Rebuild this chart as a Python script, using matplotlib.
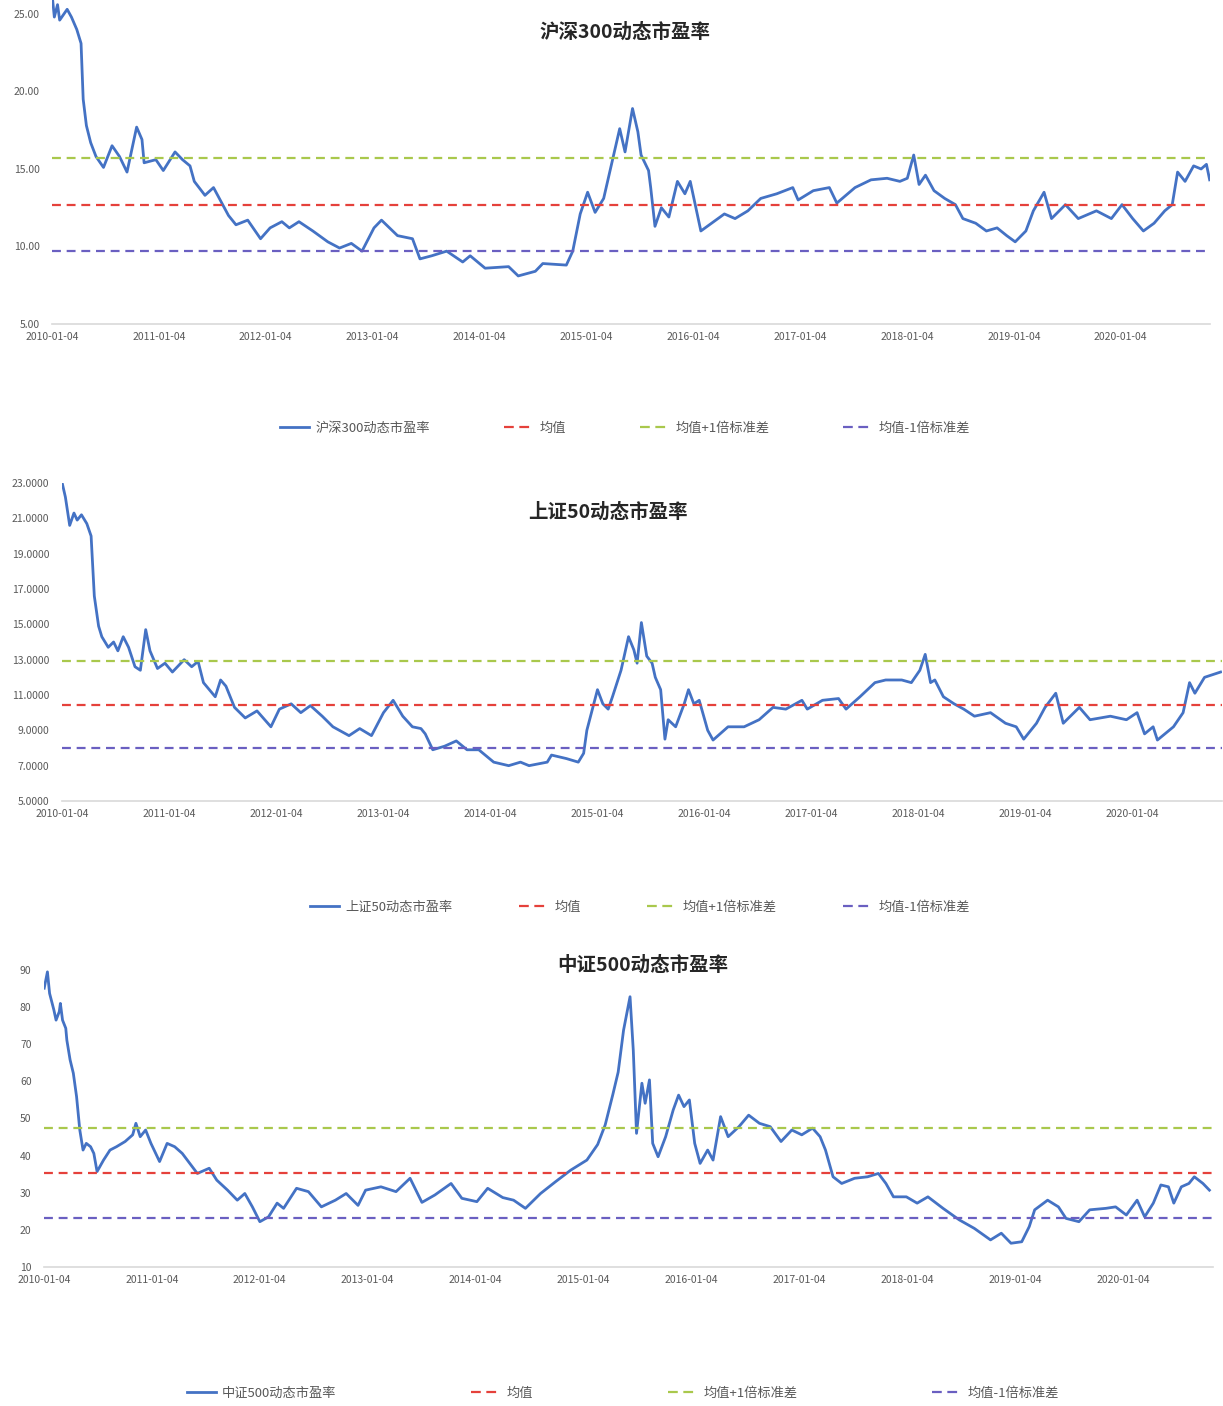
import numpy as np
import pandas as pd
import matplotlib
matplotlib.use("Agg")
import matplotlib.pyplot as plt
from matplotlib.lines import Line2D

plt.rcParams["font.family"] = ["Noto Sans CJK SC", "DejaVu Sans"]
plt.rcParams["axes.unicode_minus"] = False

# 沪深300 (时间用小数年表示)
hs300_t = [2010.01, 2010.03, 2010.06, 2010.08, 2010.15, 2010.19, 2010.24, 2010.28, 2010.30, 2010.33,
           2010.37, 2010.42, 2010.49, 2010.57, 2010.64, 2010.71, 2010.80, 2010.85, 2010.87, 2010.98,
           2011.05, 2011.16, 2011.23, 2011.30, 2011.34, 2011.44, 2011.52, 2011.59, 2011.66, 2011.73,
           2011.84, 2011.96, 2012.05, 2012.16, 2012.23, 2012.32, 2012.45, 2012.59, 2012.70, 2012.81,
           2012.91, 2013.02, 2013.09, 2013.24, 2013.38, 2013.45, 2013.56, 2013.70, 2013.85, 2013.92,
           2014.06, 2014.28, 2014.37, 2014.53, 2014.60, 2014.82, 2014.88, 2014.95, 2015.02, 2015.09,
           2015.17, 2015.32, 2015.37, 2015.44, 2015.49, 2015.52, 2015.59, 2015.61, 2015.65, 2015.71,
           2015.78, 2015.86, 2015.93, 2015.98, 2016.08, 2016.18, 2016.30, 2016.40, 2016.52, 2016.64,
           2016.79, 2016.94, 2016.99, 2017.13, 2017.28, 2017.35, 2017.52, 2017.67, 2017.82, 2017.94,
           2018.01, 2018.07, 2018.12, 2018.18, 2018.26, 2018.36, 2018.46, 2018.53, 2018.65, 2018.75,
           2018.85, 2018.94, 2019.02, 2019.12, 2019.19, 2019.29, 2019.36, 2019.49, 2019.61, 2019.78,
           2019.92, 2020.02, 2020.12, 2020.22, 2020.32, 2020.42, 2020.49, 2020.54, 2020.61, 2020.69,
           2020.76, 2020.81, 2020.84]
hs300_pe = [26.2, 24.8, 25.6, 24.6, 25.3, 24.8, 24.0, 23.1, 19.5, 17.8,
            16.7, 15.8, 15.1, 16.5, 15.8, 14.8, 17.7, 16.9, 15.4, 15.6,
            14.9, 16.1, 15.6, 15.2, 14.2, 13.3, 13.8, 12.9, 12.0, 11.4,
            11.7, 10.5, 11.2, 11.6, 11.2, 11.6, 11.0, 10.3, 9.9, 10.2,
            9.7, 11.2, 11.7, 10.7, 10.5, 9.2, 9.4, 9.7, 9.0, 9.4,
            8.6, 8.7, 8.1, 8.4, 8.9, 8.8, 9.7, 12.1, 13.5, 12.2,
            13.1, 17.6, 16.1, 18.9, 17.4, 15.9, 14.9, 13.8, 11.3, 12.5,
            11.9, 14.2, 13.4, 14.2, 11.0, 11.5, 12.1, 11.8, 12.3, 13.1,
            13.4, 13.8, 13.0, 13.6, 13.8, 12.8, 13.8, 14.3, 14.4, 14.2,
            14.4, 15.9, 14.0, 14.6, 13.6, 13.1, 12.7, 11.8, 11.5, 11.0,
            11.2, 10.7, 10.3, 11.0, 12.3, 13.5, 11.8, 12.7, 11.8, 12.3,
            11.8, 12.7, 11.8, 11.0, 11.5, 12.3, 12.7, 14.8, 14.2, 15.2,
            15.0, 15.3, 14.3]
hs300_mean, hs300_std = 12.69, 3.0

# 上证50
sz50_t = [2010.01, 2010.04, 2010.08, 2010.12, 2010.15, 2010.19, 2010.24, 2010.28, 2010.31, 2010.35,
          2010.38, 2010.44, 2010.49, 2010.53, 2010.58, 2010.63, 2010.69, 2010.74, 2010.79, 2010.83,
          2010.90, 2010.97, 2011.04, 2011.15, 2011.22, 2011.28, 2011.33, 2011.44, 2011.49, 2011.54,
          2011.62, 2011.72, 2011.83, 2011.96, 2012.04, 2012.15, 2012.24, 2012.33, 2012.44, 2012.54,
          2012.69, 2012.79, 2012.90, 2013.01, 2013.10, 2013.19, 2013.28, 2013.36, 2013.40, 2013.47,
          2013.58, 2013.69, 2013.79, 2013.90, 2014.04, 2014.18, 2014.29, 2014.37, 2014.54, 2014.58,
          2014.72, 2014.83, 2014.88, 2014.91, 2015.01, 2015.06, 2015.11, 2015.15, 2015.23, 2015.30,
          2015.35, 2015.38, 2015.42, 2015.47, 2015.52, 2015.55, 2015.60, 2015.64, 2015.67, 2015.74,
          2015.82, 2015.86, 2015.91, 2015.96, 2016.04, 2016.09, 2016.23, 2016.38, 2016.52, 2016.65,
          2016.77, 2016.92, 2016.97, 2017.11, 2017.26, 2017.33, 2017.46, 2017.60, 2017.70, 2017.85,
          2017.94, 2018.02, 2018.07, 2018.12, 2018.16, 2018.24, 2018.34, 2018.43, 2018.53, 2018.68,
          2018.82, 2018.92, 2018.99, 2019.11, 2019.19, 2019.29, 2019.36, 2019.51, 2019.61, 2019.80,
          2019.95, 2020.05, 2020.12, 2020.20, 2020.24, 2020.39, 2020.48, 2020.54, 2020.59, 2020.68,
          2020.78, 2020.83]
sz50_pe = [23.0, 22.2, 20.6, 21.3, 20.9, 21.2, 20.7, 20.0, 16.6, 14.9,
           14.3, 13.7, 14.0, 13.5, 14.3, 13.7, 12.6, 12.4, 14.7, 13.5,
           12.5, 12.8, 12.3, 13.0, 12.6, 12.9, 11.7, 10.9, 11.85, 11.5,
           10.3, 9.7, 10.1, 9.2, 10.2, 10.5, 10.0, 10.4, 9.8, 9.2,
           8.7, 9.1, 8.7, 10.0, 10.7, 9.8, 9.2, 9.1, 8.8, 7.9,
           8.1, 8.4, 7.9, 7.9, 7.2, 7.0, 7.2, 7.0, 7.2, 7.6,
           7.4, 7.2, 7.7, 9.0, 11.3, 10.5, 10.2, 10.9, 12.4, 14.3,
           13.55, 12.8, 15.1, 13.2, 12.8, 12.0, 11.3, 8.5, 9.6, 9.2,
           10.5, 11.3, 10.5, 10.7, 9.0, 8.45, 9.2, 9.2, 9.6, 10.3,
           10.2, 10.7, 10.2, 10.7, 10.8, 10.2, 10.9, 11.7, 11.85, 11.85,
           11.7, 12.4, 13.3, 11.7, 11.85, 10.9, 10.5, 10.2, 9.8, 10.0,
           9.4, 9.2, 8.5, 9.4, 10.3, 11.1, 9.4, 10.3, 9.6, 9.8,
           9.6, 10.0, 8.8, 9.2, 8.45, 9.2, 10.0, 11.7, 11.1, 12.0,
           12.2, 12.3]
sz50_mean, sz50_std = 10.45, 2.47

# 中证500
zz500_t = [2010.01, 2010.04, 2010.06, 2010.10, 2010.12, 2010.15, 2010.16, 2010.18, 2010.21, 2010.22,
           2010.25, 2010.28, 2010.31, 2010.34, 2010.37, 2010.40, 2010.44, 2010.47, 2010.50, 2010.56,
           2010.62, 2010.68, 2010.76, 2010.83, 2010.86, 2010.90, 2010.95, 2011.00, 2011.08, 2011.15,
           2011.22, 2011.29, 2011.36, 2011.43, 2011.54, 2011.61, 2011.71, 2011.80, 2011.87, 2011.94,
           2012.01, 2012.09, 2012.17, 2012.23, 2012.35, 2012.46, 2012.58, 2012.71, 2012.81, 2012.92,
           2012.99, 2013.13, 2013.27, 2013.40, 2013.51, 2013.63, 2013.78, 2013.88, 2014.02, 2014.12,
           2014.26, 2014.36, 2014.47, 2014.61, 2014.75, 2014.89, 2015.04, 2015.14, 2015.21, 2015.28,
           2015.33, 2015.38, 2015.44, 2015.47, 2015.50, 2015.55, 2015.58, 2015.62, 2015.65, 2015.70,
           2015.77, 2015.84, 2015.89, 2015.94, 2015.99, 2016.04, 2016.09, 2016.16, 2016.21, 2016.28,
           2016.35, 2016.45, 2016.54, 2016.64, 2016.74, 2016.84, 2016.94, 2017.03, 2017.13, 2017.20,
           2017.25, 2017.32, 2017.40, 2017.52, 2017.64, 2017.74, 2017.81, 2017.88, 2018.00, 2018.10,
           2018.20, 2018.34, 2018.49, 2018.63, 2018.78, 2018.88, 2018.97, 2019.07, 2019.14, 2019.19,
           2019.31, 2019.41, 2019.48, 2019.60, 2019.70, 2019.85, 2019.94, 2020.04, 2020.14, 2020.21,
           2020.29, 2020.36, 2020.43, 2020.48, 2020.55, 2020.62, 2020.67, 2020.75, 2020.81]
zz500_pe = [85.1, 89.5, 83.7, 79.2, 76.5, 78.8, 81.0, 76.5, 74.3, 71.1,
            65.8, 62.2, 55.9, 46.9, 41.5, 43.3, 42.4, 40.6, 35.7, 38.8,
            41.5, 42.4, 43.8, 45.6, 48.7, 45.1, 46.9, 43.3, 38.4, 43.3,
            42.4, 40.6, 37.9, 35.2, 36.6, 33.4, 30.7, 28.0, 29.8, 26.2,
            22.2, 23.5, 27.2, 25.8, 31.2, 30.3, 26.2, 28.0, 29.8, 26.6,
            30.7, 31.6, 30.3, 33.9, 27.4, 29.4, 32.5, 28.5, 27.6, 31.2,
            28.7, 28.0, 25.8, 29.8, 33.0, 36.1, 38.8, 43.0, 48.3, 56.4,
            62.5, 73.8, 82.8, 68.4, 46.0, 59.5, 54.1, 60.4, 43.3, 39.7,
            45.1, 52.3, 56.3, 53.2, 55.0, 43.3, 37.9, 41.5, 38.8, 50.5,
            45.1, 47.8, 50.9, 48.7, 47.8, 43.8, 46.9, 45.6, 47.4, 45.1,
            41.5, 34.3, 32.5, 33.9, 34.3, 35.2, 32.5, 28.9, 28.9, 27.2,
            28.9, 25.8, 22.7, 20.4, 17.3, 19.1, 16.4, 16.8, 20.9, 25.4,
            28.0, 26.2, 23.1, 22.2, 25.4, 25.8, 26.2, 24.0, 28.0, 23.5,
            27.2, 32.1, 31.6, 27.2, 31.6, 32.5, 34.3, 32.5, 30.7]
zz500_mean, zz500_std = 35.4, 12.1

YEARS = list(range(2010, 2021))
LEGEND_EXTRA = ["均值", "均值+1倍标准差", "均值-1倍标准差"]

BLUE = "#4472c4"
RED = "#e5413b"
GREEN = "#a9c84c"
PURPLE = "#6a5fc1"
GREY = "#595959"
DASH = (4, 2.6)
LEG_DASH = (4.4, 2.5)

W, H = 1223, 1406


def year_to_date(ts):
    ts = np.asarray(ts, dtype=float)
    yrs = ts.astype(int)
    start = pd.to_datetime([f"{y}-01-01" for y in yrs])
    return start + pd.to_timedelta((ts - yrs) * 365.25, unit="D")


def draw_panel(rect, t, pe, mean, std, name, yticks, fmt, title_xy, legend_xy, colspace):
    ax = fig.add_axes([rect[0] / W, 1 - rect[3] / H, (rect[2] - rect[0]) / W, (rect[3] - rect[1]) / H])
    ax.plot(year_to_date(t), pe, color=BLUE, lw=2.0, solid_joinstyle="round")
    for val, col in [(mean, RED), (mean + std, GREEN), (mean - std, PURPLE)]:
        ax.axhline(val, color=col, lw=1.6, dashes=DASH)
    ax.set_ylim(yticks[0], rect[4])
    ax.set_xlim(pd.Timestamp("2010-01-04"), pd.Timestamp("2020-11-04"))
    ax.set_yticks(yticks)
    ax.set_yticklabels([fmt.format(v) for v in yticks])
    ax.set_xticks([pd.Timestamp(f"{y}-01-04") for y in YEARS])
    ax.set_xticklabels([f"{y}-01-04" for y in YEARS])
    ax.tick_params(length=0, labelsize=7.5, colors=GREY)
    ax.tick_params(axis="y", pad=9)
    ax.tick_params(axis="x", pad=6)
    for s in ["top", "right", "left"]:
        ax.spines[s].set_visible(False)
    ax.spines["bottom"].set_color("#d9d9d9")
    ax.spines["bottom"].set_linewidth(1.2)
    ax.patch.set_alpha(0)

    fig.text(title_xy[0] / W, 1 - title_xy[1] / H, name, ha="center", va="center",
             fontsize=14, fontweight="bold", color="#262626")

    handles = [Line2D([], [], color=BLUE, lw=2.0),
               Line2D([], [], color=RED, lw=1.6, dashes=LEG_DASH),
               Line2D([], [], color=GREEN, lw=1.6, dashes=LEG_DASH),
               Line2D([], [], color=PURPLE, lw=1.6, dashes=LEG_DASH)]
    leg = fig.legend(handles, [name] + LEGEND_EXTRA, loc="center",
                     bbox_to_anchor=(legend_xy[0] / W, 1 - legend_xy[1] / H),
                     ncol=4, frameon=False, fontsize=9.5, handlelength=2.2,
                     handletextpad=0.5, columnspacing=colspace)
    for txt in leg.get_texts():
        txt.set_color(GREY)
    return ax


fig = plt.figure(figsize=(W / 100, H / 100), dpi=100)

# rect: left px, top px, right px, bottom px, y max
draw_panel((52, 0, 1210, 324, 25.9), hs300_t, hs300_pe, hs300_mean, hs300_std,
           "沪深300动态市盈率", [5, 10, 15, 20, 25], "{:.2f}", (625, 32), (625, 428), 5.6)
draw_panel((62, 483, 1222, 801, 23.0), sz50_t, sz50_pe, sz50_mean, sz50_std,
           "上证50动态市盈率", [5, 7, 9, 11, 13, 15, 17, 19, 21, 23], "{:.4f}", (608, 512), (640, 907), 5.0)
draw_panel((44, 970, 1213, 1267, 90.0), zz500_t, zz500_pe, zz500_mean, zz500_std,
           "中证500动态市盈率", [10, 20, 30, 40, 50, 60, 70, 80, 90], "{:.0f}", (643, 965), (623, 1393), 10.2)

fig.savefig("out.png", dpi=100, facecolor="white")
